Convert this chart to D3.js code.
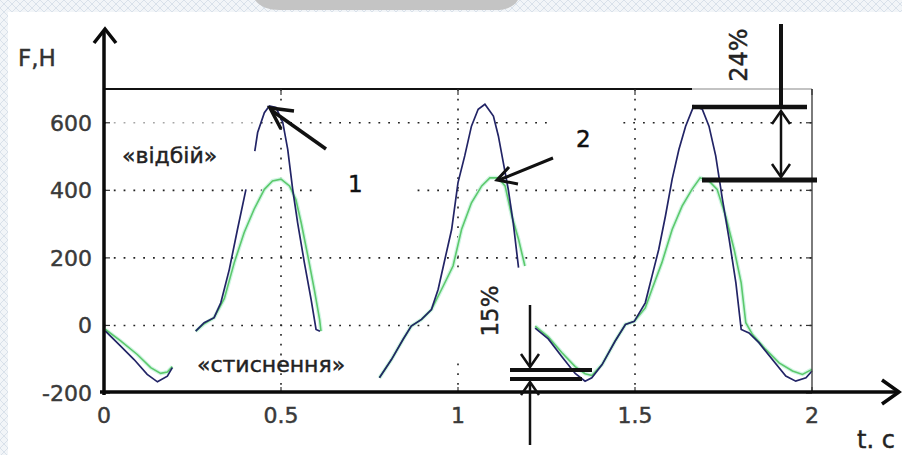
<!DOCTYPE html>
<html>
<head>
<meta charset="utf-8">
<script src="https://cdn.jsdelivr.net/npm/d3@7"></script>
<style>
  body { margin: 0; background: #fff; }
  svg { display: block; }
  text { font-family: "DejaVu Sans", sans-serif; stroke-width: 0.45px; }
</style>
</head>
<body>
<div id="chart"></div>
<script>
// ---- data ----
// curve 1 (dark blue) : null marks a break in the trace
var blueT = [0.004, 0.047, 0.085, 0.122, 0.151, 0.179, 0.193, 0.2,
  0.259, 0.283, 0.311, 0.33, 0.354, 0.377, 0.401, 0.41,
  0.426, 0.434, 0.453, 0.467, 0.486, 0.505, 0.519, 0.533, 0.547, 0.566, 0.585, 0.599, 0.61, 0.62,
  0.778, 0.812, 0.845, 0.868, 0.897, 0.925, 0.944, 0.963, 0.982, 1.0, 1.019, 1.038, 1.057, 1.076,
  1.1, 1.114, 1.128, 1.142, 1.156, 1.171, 1.18,
  1.218, 1.255, 1.293, 1.331, 1.359, 1.378, 1.407, 1.444, 1.473, 1.498, 1.529, 1.548, 1.567, 1.586,
  1.605, 1.624, 1.643, 1.666, 1.69, 1.709, 1.728, 1.747, 1.766, 1.785, 1.8, 1.822, 1.85, 1.888,
  1.926, 1.954, 1.983, 2.0];
var blueF = [-17, -61, -101, -145, -167, -150, -125, null,
  -17, 8, 23, 67, 166, 284, 403, null,
  516, 571, 630, 650, 645, 601, 521, 403, 304, 186, 77, -12, -17, null,
  -155, -101, -41, -2, 18, 47, 107, 196, 284, 423, 502, 590, 640, 655,
  620, 561, 482, 403, 304, 171, null,
  -8, -40, -92, -142, -165, -155, -116, -46, 3, 12, 67, 146, 225, 324,
  433, 521, 590, 650, 640, 590, 502, 373, 255, 126, -12, -22, -51, -101,
  -150, -165, -155, -135];

// curve 2 (green)
var greenT = [0.004, 0.047, 0.094, 0.132, 0.16, 0.179, 0.193, 0.2,
  0.259, 0.283, 0.311, 0.34, 0.368, 0.396, 0.424, 0.453, 0.476, 0.5, 0.524, 0.542, 0.557, 0.576, 0.594, 0.609, 0.613, 0.62,
  0.778, 0.812, 0.845, 0.868, 0.897, 0.925, 0.958, 0.986, 1.01, 1.038, 1.067, 1.09, 1.114, 1.133, 1.152, 1.171, 1.189, 1.2,
  1.218, 1.255, 1.293, 1.331, 1.359, 1.378, 1.407, 1.444, 1.473, 1.498, 1.529, 1.548, 1.576, 1.605, 1.633,
  1.661, 1.684, 1.709, 1.732, 1.756, 1.78, 1.8, 1.813, 1.832, 1.869, 1.907, 1.945, 1.973, 2.0];
var greenF = [-12, -46, -86, -125, -142, -138, -122, null,
  -17, 5, 23, 80, 186, 275, 344, 403, 428, 433, 413, 373, 304, 205, 107, 18, -17, null,
  -155, -101, -41, -2, 18, 47, 116, 176, 284, 363, 413, 437, 437, 413, 324, 255, 176, null,
  -2, -34, -80, -122, -143, -148, -116, -46, 3, 12, 52, 107, 186, 284, 353,
  403, 437, 428, 403, 324, 225, 126, 8, -27, -71, -111, -135, -145, -130];

var xTicks = [0, 0.5, 1, 1.5, 2];
var xTickLabels = ["0", "0.5", "1", "1.5", "2"];
var yTicks = [-200, 0, 200, 400, 600];
var yTickLabels = ["-200", "0", "200", "400", "600"];
var gridX = [0.5, 1, 1.5];
var gridY = [0, 200, 400, 600];

var svgWidth = 902;
var svgHeight = 455;

var svg = d3.select("#chart")
    .append("svg")
    .attr("width", svgWidth)
    .attr("height", svgHeight);

// hatched page background with white sheet on top
var defs = svg.append("defs");
var pat = defs.append("pattern")
    .attr("id", "hatch")
    .attr("width", 8)
    .attr("height", 8)
    .attr("patternUnits", "userSpaceOnUse");
pat.append("rect").attr("width", 8).attr("height", 8).attr("fill", "#f2f5f8");
pat.append("path").attr("d", "M0,8 L8,0 M0,0 L8,8").attr("stroke", "#d9e1ea").attr("stroke-width", 1);

svg.append("rect").attr("width", svgWidth).attr("height", svgHeight).attr("fill", "url(#hatch)");
svg.append("path")
    .attr("d", "M255,0 Q262,10 280,10 L495,10 Q512,10 518,0 Z")
    .attr("fill", "#c4c4c4");
svg.append("rect")
    .attr("x", 8).attr("y", 12)
    .attr("width", svgWidth - 8).attr("height", svgHeight - 12)
    .attr("fill", "#fff");

var x = d3.scaleLinear().domain([0, 2]).range([104, 812]);
var y = d3.scaleLinear().domain([-200, 700]).range([393, 89]);

// dotted grid
svg.append("g").selectAll("line")
    .data(gridY)
    .enter()
    .append("line")
    .attr("x1", x(0)).attr("x2", x(2))
    .attr("y1", d => y(d)).attr("y2", d => y(d))
    .attr("stroke", "#222")
    .attr("stroke-width", 1.6)
    .attr("stroke-dasharray", "1.8,8");

svg.append("g").selectAll("line")
    .data(gridX)
    .enter()
    .append("line")
    .attr("x1", d => x(d)).attr("x2", d => x(d))
    .attr("y1", y(700)).attr("y2", y(-200))
    .attr("stroke", "#222")
    .attr("stroke-width", 1.6)
    .attr("stroke-dasharray", "1.8,8");

// white patches behind the labels (they hide the grid in the original)
var patches = [
  [318, 170, 92, 30, 1],
  [552, 112, 70, 20, 1],
  [433, 268, 105, 90, 1],
  [106, 112, 155, 60, 0.6]
];
svg.append("g").selectAll("rect")
    .data(patches)
    .enter()
    .append("rect")
    .attr("x", d => d[0]).attr("y", d => d[1])
    .attr("width", d => d[2]).attr("height", d => d[3])
    .attr("fill", "#fff")
    .attr("opacity", d => d[4]);

// curves
var line = d3.line()
    .defined(d => d[1] != null)
    .x(d => x(d[0]))
    .y(d => y(d[1]));

var greenData = d3.zip(greenT, greenF);
var blueData = d3.zip(blueT, blueF);

svg.append("path")
    .datum(greenData)
    .attr("d", line)
    .attr("fill", "none")
    .attr("stroke", "#d2f5e4")
    .attr("stroke-width", 4);
svg.append("path")
    .datum(greenData)
    .attr("d", line)
    .attr("fill", "none")
    .attr("stroke", "#5cc96c")
    .attr("stroke-width", 1.6);
svg.append("path")
    .datum(blueData)
    .attr("d", line)
    .attr("fill", "none")
    .attr("stroke", "#222466")
    .attr("stroke-width", 1.7);

// frame
svg.append("line")
    .attr("x1", x(0)).attr("x2", x(2))
    .attr("y1", y(700)).attr("y2", y(700))
    .attr("stroke", "#888").attr("stroke-width", 1.2);
svg.append("line")
    .attr("x1", x(0)).attr("x2", 692)
    .attr("y1", y(700)).attr("y2", y(700))
    .attr("stroke", "#111").attr("stroke-width", 1.8);
svg.append("line")
    .attr("x1", x(2)).attr("x2", x(2))
    .attr("y1", y(700)).attr("y2", y(-200))
    .attr("stroke", "#444").attr("stroke-width", 1.4);

// inner ticks (matlab style)
var ticks = svg.append("g").attr("stroke", "#333").attr("stroke-width", 1.2);
yTicks.forEach(function (v) {
  ticks.append("line").attr("x1", x(0)).attr("x2", x(0) + 6).attr("y1", y(v)).attr("y2", y(v));
  ticks.append("line").attr("x1", x(2)).attr("x2", x(2) - 6).attr("y1", y(v)).attr("y2", y(v));
});
xTicks.forEach(function (v) {
  ticks.append("line").attr("x1", x(v)).attr("x2", x(v)).attr("y1", y(-200)).attr("y2", y(-200) - 6);
  ticks.append("line").attr("x1", x(v)).attr("x2", x(v)).attr("y1", y(700)).attr("y2", y(700) + 6);
});

// main axes with arrows
var axisStroke = "#0a0a0a";
svg.append("line")
    .attr("x1", x(0)).attr("x2", x(0))
    .attr("y1", 395).attr("y2", 30)
    .attr("stroke", axisStroke).attr("stroke-width", 3.5);
svg.append("path")
    .attr("d", "M94,43 L105,29 L116,43")
    .attr("fill", "none").attr("stroke", axisStroke).attr("stroke-width", 3.5);
svg.append("line")
    .attr("x1", 100).attr("x2", 898)
    .attr("y1", 392).attr("y2", 392)
    .attr("stroke", axisStroke).attr("stroke-width", 3.5);
svg.append("path")
    .attr("d", "M882,380 L899,392 L882,404")
    .attr("fill", "none").attr("stroke", axisStroke).attr("stroke-width", 3.5);

// tick labels
svg.append("g").selectAll("text")
    .data(yTicks)
    .enter()
    .append("text")
    .attr("x", 92)
    .attr("y", d => y(d) + 8)
    .attr("text-anchor", "end")
    .attr("font-size", "22px")
    .attr("fill", "#3a3a3a").attr("stroke", "#3a3a3a")
    .text((d, i) => yTickLabels[i]);

svg.append("g").selectAll("text")
    .data(xTicks)
    .enter()
    .append("text")
    .attr("x", d => x(d))
    .attr("y", 423)
    .attr("text-anchor", "middle")
    .attr("font-size", "22px")
    .attr("fill", "#3a3a3a").attr("stroke", "#3a3a3a")
    .text((d, i) => xTickLabels[i]);

function label(xp, yp, size, col, str) {
  return svg.append("text").attr("x", xp).attr("y", yp)
      .attr("font-size", size + "px").attr("fill", col).attr("stroke", col).text(str);
}
label(18, 66, 23, "#333", "F,H");
label(857, 448, 24, "#222", "t. c");

// annotation texts
label(122, 163, 22, "#222", "«відбій»");
label(197, 372, 22, "#222", "«стиснення»");
label(348, 192, 23, "#111", "1");
label(576, 147, 23, "#111", "2");
label(0, 0, 24, "#222", "24%")
    .attr("transform", "translate(747,55) rotate(-90)")
    .attr("text-anchor", "middle");
label(0, 0, 23, "#222", "15%")
    .attr("transform", "translate(498,311) rotate(-90)")
    .attr("text-anchor", "middle");

// annotation arrows and bars
var ann = svg.append("g").attr("fill", "none").attr("stroke", "#111").attr("stroke-linecap", "butt");
function seg(x1, y1, x2, y2, w) {
  ann.append("line").attr("x1", x1).attr("y1", y1).attr("x2", x2).attr("y2", y2).attr("stroke-width", w);
}
function chevron(d, w) {
  ann.append("path").attr("d", d).attr("stroke-width", w).attr("stroke-linejoin", "miter");
}
// arrow 1 -> peak of curve 1
seg(326, 149, 271, 110, 3.5);
chevron("M294,111 L270,108 L281,129", 3.5);
// arrow 2 -> peak of curve 2
seg(553, 158, 499, 180, 3);
chevron("M509,167 L497,180 L518,184", 3);

// 24 %
seg(781, 24, 781, 108, 4);
seg(692, 107, 807, 107, 4.5);
seg(702, 180, 817, 180, 5);
seg(781, 112, 781, 176, 2.5);
chevron("M772,124 L781,111 L790,124", 2.5);
chevron("M772,164 L781,177 L790,164", 2.5);

// 15 %
seg(530, 305, 530, 366, 2.5);
chevron("M521,354 L530,367 L539,354", 2.5);
seg(510, 370, 592, 370, 4);
seg(510, 379, 582, 379, 4);
seg(530, 445, 530, 383, 2.5);
chevron("M521,395 L530,382 L539,395", 2.5);
</script>
</body>
</html>
